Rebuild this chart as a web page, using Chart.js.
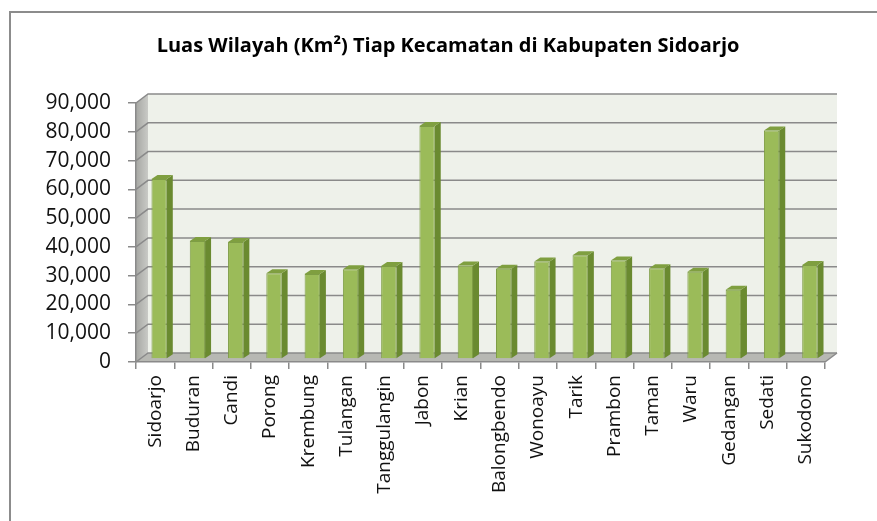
<!DOCTYPE html>
<html>
<head>
<meta charset="utf-8">
<script src="https://cdn.jsdelivr.net/npm/chart.js@4.4.1/dist/chart.umd.min.js"></script>
<style>
    html, body { margin: 0; padding: 0; background: #fff; }
    #frame { position: absolute; left: 9px; top: 11px; width: 900px; height: 600px;
             border-left: 2px solid #8c8c8c; border-top: 2px solid #8c8c8c; }
    #wrap { position: absolute; left: 0; top: 0; width: 877px; height: 521px; }
</style>
</head>
<body>
<div id="frame"></div>
<div id="wrap"><canvas id="myChart"></canvas></div>
<script>
const kecamatan = ["Sidoarjo", "Buduran", "Candi", "Porong", "Krembung", "Tulangan",
    "Tanggulangin", "Jabon", "Krian", "Balongbendo", "Wonoayu", "Tarik",
    "Prambon", "Taman", "Waru", "Gedangan", "Sedati", "Sukodono"];
const luas = [62.56, 41.03, 40.67, 29.82, 29.55, 31.21, 32.29, 80.99, 32.50,
    31.40, 33.92, 36.06, 34.23, 31.54, 30.32, 24.06, 79.43, 32.68];
const yTicks = [0, 10, 20, 30, 40, 50, 60, 70, 80, 90];
const judul = "Luas Wilayah (Km\u00B2) Tiap Kecamatan di Kabupaten Sidoarjo";

// 3d look: offset of the back wall and the bars
const wall = { dx: 12, dy: -9 };
const bar = { dx: 4, dy: -3, side: 6, rise: 4 };

const fontName = "'Open Sans', 'Liberation Sans', sans-serif";

const depth3d = {
    id: 'depth3d',
    beforeDraw(chart) {
        const ctx = chart.ctx;
        const a = chart.chartArea;
        const y = chart.scales.y;
        ctx.save();
        // back wall
        ctx.fillStyle = '#eef1ea';
        ctx.fillRect(a.left + wall.dx, a.top + wall.dy, a.right - a.left, a.bottom - a.top);
        // left side wall
        const g = ctx.createLinearGradient(a.left, 0, a.left + wall.dx, 0);
        g.addColorStop(0, '#a6a7a3');
        g.addColorStop(1, '#c9cac6');
        ctx.fillStyle = g;
        ctx.beginPath();
        ctx.moveTo(a.left, a.top);
        ctx.lineTo(a.left + wall.dx, a.top + wall.dy);
        ctx.lineTo(a.left + wall.dx, a.bottom + wall.dy);
        ctx.lineTo(a.left, a.bottom);
        ctx.closePath();
        ctx.fill();
        // floor
        ctx.fillStyle = '#b7b8b3';
        ctx.beginPath();
        ctx.moveTo(a.left, a.bottom);
        ctx.lineTo(a.right, a.bottom);
        ctx.lineTo(a.right + wall.dx, a.bottom + wall.dy);
        ctx.lineTo(a.left + wall.dx, a.bottom + wall.dy);
        ctx.closePath();
        ctx.fill();
        // grid lines on side and back wall
        ctx.strokeStyle = '#8a8a8a';
        ctx.lineWidth = 1.5;
        yTicks.forEach(function (v) {
            const py = y.getPixelForValue(v);
            ctx.beginPath();
            ctx.moveTo(a.left, py);
            ctx.lineTo(a.left + wall.dx, py + wall.dy);
            ctx.lineTo(a.right + wall.dx, py + wall.dy);
            ctx.stroke();
        });
        // floor edges
        ctx.beginPath();
        ctx.moveTo(a.right, a.bottom);
        ctx.lineTo(a.right + wall.dx, a.bottom + wall.dy);
        ctx.stroke();
        ctx.restore();
    },
    beforeDatasetsDraw(chart) {
        chart.ctx.save();
        chart.ctx.translate(bar.dx, bar.dy);
    },
    afterDatasetsDraw(chart) {
        const ctx = chart.ctx;
        chart.getDatasetMeta(0).data.forEach(function (el) {
            const p = el.getProps(['x', 'y', 'base', 'width'], true);
            const l = p.x - p.width / 2;
            const r = p.x + p.width / 2;
            // side face
            ctx.fillStyle = '#6a8a30';
            ctx.beginPath();
            ctx.moveTo(r, p.y);
            ctx.lineTo(r + bar.side, p.y - bar.rise);
            ctx.lineTo(r + bar.side, p.base - bar.rise);
            ctx.lineTo(r, p.base);
            ctx.closePath();
            ctx.fill();
            // top face
            ctx.fillStyle = '#7f9f40';
            ctx.beginPath();
            ctx.moveTo(l, p.y);
            ctx.lineTo(l + bar.side, p.y - bar.rise);
            ctx.lineTo(r + bar.side, p.y - bar.rise);
            ctx.lineTo(r, p.y);
            ctx.closePath();
            ctx.fill();
        });
        ctx.restore();
    },
    afterDraw(chart) {
        const ctx = chart.ctx;
        ctx.save();
        ctx.fillStyle = '#000';
        ctx.font = 'bold 20px ' + fontName;
        ctx.textAlign = 'center';
        ctx.textBaseline = 'middle';
        ctx.fillText(judul, 448, 46);
        ctx.restore();
    }
};

const ctx = document.getElementById('myChart');

new Chart(ctx, {
    type: 'bar',
    data: {
        labels: kecamatan,
        datasets: [{
            label: "Luas Wilayah",
            data: luas,
            backgroundColor: '#9bbb59',
            borderColor: '#7e9d45',
            borderWidth: 1,
            barPercentage: 0.4,
            categoryPercentage: 1
        }]
    },
    options: {
        responsive: true,
        maintainAspectRatio: false,
        animation: false,
        devicePixelRatio: 1,
        layout: { padding: { left: 10, right: 52, top: 103, bottom: 0 } },
        plugins: {
            legend: { display: false },
            title: { display: false },
            tooltip: { enabled: false }
        },
        scales: {
            x: {
                grid: { drawOnChartArea: false, drawTicks: true, tickLength: 7, color: '#8a8a8a', lineWidth: 1.5 },
                border: { display: true, color: '#8a8a8a', width: 1.5 },
                ticks: {
                    minRotation: 90, maxRotation: 90, autoSkip: false, padding: 6,
                    color: '#111', font: { family: fontName, size: 19 }
                },
                afterFit(scale) { scale.height = 159; }
            },
            y: {
                min: 0, max: 90,
                afterBuildTicks(scale) {
                    scale.ticks = yTicks.map(function (v) { return { value: v }; });
                },
                grid: { drawOnChartArea: false, drawTicks: true, tickLength: 8, color: '#8a8a8a', lineWidth: 1.5 },
                border: { display: true, color: '#8a8a8a', width: 1.5 },
                ticks: {
                    padding: 17,
                    color: '#111',
                    font: { family: fontName, size: 21 },
                    callback: function (v) {
                        return v === 0 ? '0' : v.toFixed(3).replace('.', ',');
                    }
                },
                afterFit(scale) { scale.width = 126; }
            }
        }
    },
    plugins: [depth3d]
});
</script>
</body>
</html>
